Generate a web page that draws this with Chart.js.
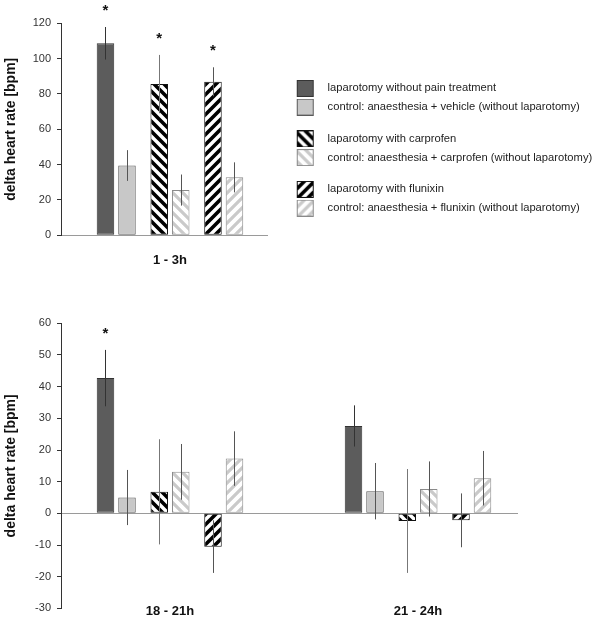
<!DOCTYPE html>
<html><head><meta charset="utf-8">
<script src="https://cdn.jsdelivr.net/npm/chart.js@4.4.1/dist/chart.umd.min.js"></script>
<style>
html,body{margin:0;padding:0;background:#fff;}
#wrap{position:relative;width:600px;height:621px;overflow:hidden;}
#c1{position:absolute;left:0;top:0;}
#c2{position:absolute;left:0;top:280px;}
</style></head><body>
<div id="wrap">
<canvas id="c1" width="600" height="280"></canvas>
<canvas id="c2" width="600" height="341"></canvas>
</div>
<script>
// ---- data ----
const seriesNames = [
  'laparotomy without pain treatment',
  'control: anaesthesia + vehicle (without laparotomy)',
  'laparotomy with carprofen',
  'control: anaesthesia + carprofen (without laparotomy)',
  'laparotomy with flunixin',
  'control: anaesthesia + flunixin (without laparotomy)'
];
const topLabels = ['1 - 3h'];
const bottomLabels = ['18 - 21h', '21 - 24h'];

// means / error (one value per series)
const mean1to3 = [108.7, 39.5, 85.6, 25.6, 86.9, 32.8];
const err1to3 = [9.2, 8.7, 16.5, 8.8, 8.2, 8.5];
const star1to3 = [true, false, true, false, true, false];

const mean18to21 = [42.7, 5.0, 6.8, 13.1, -10.5, 17.3];
const err18to21 = [8.9, 8.7, 16.6, 8.8, 8.3, 8.6];
const star18to21 = [true, false, false, false, false, false];

const mean21to24 = [27.6, 7.0, -2.4, 7.7, -2.2, 11.1];
const err21to24 = [6.5, 8.9, 16.4, 8.7, 8.5, 8.6];
const star21to24 = [false, false, false, false, false, false];

// ---- styling ----
const FAM = "'Liberation Sans', Arial, Helvetica, sans-serif";
Chart.defaults.font.family = FAM;
Chart.defaults.color = '#333';

function stripeTile(dir, color, lw) {
  const t = document.createElement('canvas'); t.width = 10; t.height = 10;
  const g = t.getContext('2d');
  g.fillStyle = '#fff'; g.fillRect(0, 0, 10, 10);
  g.strokeStyle = color; g.lineWidth = lw;
  g.beginPath();
  for (const k of [-10, 0, 10]) {
    if (dir === '\\') { g.moveTo(k - 3, -3); g.lineTo(k + 13, 13); }
    else { g.moveTo(k - 3, 13); g.lineTo(k + 13, -3); }
  }
  g.stroke();
  return t;
}
function fillFor(spec, ctx) {
  if (spec.tile) return ctx.createPattern(spec.tile, 'repeat');
  return spec.color;
}
const styleSpecs = [
  { color: '#5c5c5c', border: '#333333' },
  { color: '#c8c8c8', border: '#5a5a5a' },
  { tile: stripeTile('\\', '#000', 3.6), border: '#111111' },
  { tile: stripeTile('\\', '#cacaca', 3.2), border: '#8a8a8a' },
  { tile: stripeTile('/', '#000', 3.6), border: '#111111' },
  { tile: stripeTile('/', '#cacaca', 3.2), border: '#8a8a8a' }
];
const errColors = ['#333', '#555', '#777', '#555', '#555', '#555'];
// empty slots after each series (bar layout): narrow gap inside a pair, wider gap between pairs
const gapsAfter = [1, 2, 1, 2, 1, 0];

function swatch(spec) {
  const c = document.createElement('canvas'); c.width = 47; c.height = 17;
  const g = c.getContext('2d');
  g.fillStyle = fillFor(spec, g);
  g.fillRect(22, 0, 17, 17);
  g.strokeStyle = spec.border; g.lineWidth = 1;
  g.strokeRect(22.5, 0.5, 16, 16);
  return c;
}
const blank = document.createElement('canvas'); blank.width = 1; blank.height = 1;

function buildDatasets(ctx, meansByCat, errsByCat, starsByCat) {
  const out = [];
  for (let s = 0; s < seriesNames.length; s++) {
    const spec = styleSpecs[s];
    out.push({
      label: seriesNames[s],
      data: meansByCat.map((m, c) => ({ x: c, y: m[s] })),
      errors: errsByCat.map(e => e[s]),
      stars: starsByCat.map(st => st[s]),
      errColor: errColors[s],
      backgroundColor: fillFor(spec, ctx),
      borderColor: spec.border,
      borderWidth: 1,
      borderSkipped: false,
      swatch: swatch(spec)
    });
    for (let k = 0; k < gapsAfter[s]; k++) {
      out.push({ label: '', spacer: true, legendGap: k === 1,
        data: meansByCat.map((m, c) => ({ x: c, y: null })) });
    }
  }
  return out;
}

const errorBarPlugin = {
  id: 'errorBars',
  afterDatasetsDraw(chart) {
    const ctx = chart.ctx, ys = chart.scales.y;
    chart.data.datasets.forEach((ds, di) => {
      if (!ds.errors) return;
      const meta = chart.getDatasetMeta(di);
      meta.data.forEach((el, i) => {
        const v = ds.data[i].y, e = ds.errors[i];
        const x = Math.round(el.x) + 0.5;
        const yTop = ys.getPixelForValue(v + e), yBot = ys.getPixelForValue(v - e);
        ctx.save();
        ctx.strokeStyle = ds.errColor; ctx.lineWidth = 1;
        ctx.beginPath(); ctx.moveTo(x, yTop); ctx.lineTo(x, yBot); ctx.stroke();
        if (ds.stars[i]) {
          ctx.fillStyle = '#111';
          ctx.font = 'bold 15px ' + FAM;
          ctx.textAlign = 'center'; ctx.textBaseline = 'alphabetic';
          ctx.fillText('*', el.x, yTop - 12);
        }
        ctx.restore();
      });
    });
  }
};

function yAxis(min, max, step, zeroLine) {
  return {
    min, max,
    afterFit: s => { s.width = 61; },
    ticks: { stepSize: step, padding: 6, color: '#333', font: { size: 11 } },
    grid: {
      drawOnChartArea: !!zeroLine,
      drawTicks: true, tickLength: 4, tickColor: '#333',
      color: c => (zeroLine && c.tick && c.tick.value === 0) ? '#9a9a9a' : 'rgba(0,0,0,0)'
    },
    border: { display: true, color: '#333', width: 1 },
    title: { display: true, text: 'delta heart rate [bpm]', color: '#111',
      font: { size: 14, weight: 'bold' }, padding: { top: 3, bottom: 0 } }
  };
}
function xAxis(labels, min, max, height, pad, showBorder, mirror) {
  return {
    type: 'linear', min, max, offset: false,
    afterFit: s => { s.height = height; },
    afterBuildTicks: s => { s.ticks = labels.map((_, i) => ({ value: i })); },
    ticks: { autoSkip: false, maxRotation: 0, padding: pad, mirror: mirror, color: '#111',
      font: { size: 13, weight: 'bold' }, callback: (v, i) => labels[i] },
    grid: { display: false, drawTicks: false, offset: false },
    border: { display: showBorder, color: '#9a9a9a', width: 1 }
  };
}

// ---- top chart ----
const c1 = document.getElementById('c1');
new Chart(c1, {
  type: 'bar',
  data: { datasets: buildDatasets(c1.getContext('2d'), [mean1to3], [err1to3], [star1to3]) },
  options: {
    responsive: false, animation: false,
    layout: { padding: { top: 23.3, right: 0, bottom: 0, left: 0 } },
    datasets: { bar: { categoryPercentage: 0.6784, barPercentage: 1.63 } },
    scales: {
      x: xAxis(topLabels, -0.529, 0.471, 44.7, 17, true, false),
      y: yAxis(0, 120, 20, false)
    },
    plugins: {
      tooltip: { enabled: false },
      legend: {
        display: true, position: 'right', align: 'start', maxWidth: 333,
        title: { display: true, text: '', font: { size: 10, lineHeight: 1 }, padding: { top: 42, bottom: 0 } },
        labels: {
          usePointStyle: true, pointStyleWidth: 47.5, padding: 7.5, color: '#222',
          font: { size: 11.2, lineHeight: 0.5 },
          filter: item => item.keep,
          generateLabels: chart => chart.data.datasets.map((ds, i) => ds.spacer ? {
            text: [''], pointStyle: blank, fillStyle: 'rgba(0,0,0,0)', strokeStyle: 'rgba(0,0,0,0)',
            lineWidth: 0, hidden: false, datasetIndex: i, keep: ds.legendGap
          } : {
            text: ds.label, pointStyle: ds.swatch, fillStyle: 'rgba(0,0,0,0)', strokeStyle: 'rgba(0,0,0,0)',
            lineWidth: 0, hidden: false, datasetIndex: i, fontColor: '#222', keep: true
          })
        }
      }
    }
  },
  plugins: [errorBarPlugin]
});

// ---- bottom chart ----
const c2 = document.getElementById('c2');
new Chart(c2, {
  type: 'bar',
  data: { datasets: buildDatasets(c2.getContext('2d'), [mean18to21, mean21to24], [err18to21, err21to24], [star18to21, star21to24]) },
  options: {
    responsive: false, animation: false,
    layout: { padding: { top: 43.3, right: 82, bottom: 0, left: 0 } },
    datasets: { bar: { categoryPercentage: 0.5635, barPercentage: 1.63 } },
    scales: {
      x: xAxis(bottomLabels, -0.4395, 1.4032, 8.7, -10.5, false, true),
      y: yAxis(-30, 60, 10, true)
    },
    plugins: { tooltip: { enabled: false }, legend: { display: false } }
  },
  plugins: [errorBarPlugin]
});
</script>
</body></html>
